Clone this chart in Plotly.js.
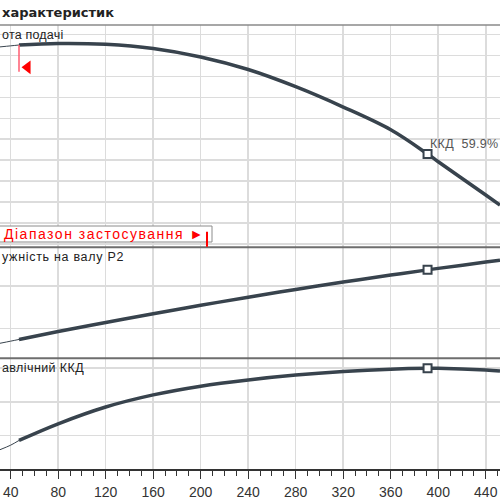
<!DOCTYPE html>
<html>
<head>
<meta charset="utf-8">
<script src="https://cdn.plot.ly/plotly-3.0.1.min.js"></script>
<style>
  body { margin: 0; background: #fff; }
  #graph { width: 500px; height: 500px; }
</style>
</head>
<body>
<div id="graph"></div>
<script>
// flow, m3/h
const flow = [31, 40, 47, 80, 120, 160, 200, 240, 280, 320, 360, 391, 400, 440, 452];
// head, m
const head = [18.81, 18.91, 18.99, 19.14, 19.06, 18.66, 17.85, 16.65, 15.01, 13.07, 10.90, 8.59, 7.85, 4.68, 3.72];
// shaft power P2, kW
const power = [8.61, 8.81, 8.97, 9.71, 10.56, 11.39, 12.18, 12.95, 13.67, 14.37, 15.03, 15.52, 15.66, 16.25, 16.42];
// hydraulic efficiency, %
const eff = [11.5, 14.2, 17.0, 26.9, 36.9, 44.1, 49.3, 53.0, 55.9, 58.0, 59.4, 59.9, 59.9, 58.9, 58.3];

const rangeStart = 47;   // start of application range
const dutyFlow = 391;    // duty point
const rangeMarkLow = 16.44;

const curveColor = '#38434d';
const gridColor = '#dcdcdc';
const sansFont = 'Liberation Sans, Arial, sans-serif';

function part(arr, thin) {
  var out = [];
  for (var i = 0; i < flow.length; i++) {
    if (thin ? flow[i] <= rangeStart : flow[i] >= rangeStart) out.push(arr[i]);
  }
  return out;
}

const di = flow.indexOf(dutyFlow);

function curve(vals, yax) {
  return [
    { x: part(flow, true), y: part(vals, true), yaxis: yax, mode: 'lines',
      line: { color: curveColor, width: 1, shape: 'spline' }, hoverinfo: 'skip' },
    { x: part(flow, false), y: part(vals, false), yaxis: yax, mode: 'lines',
      line: { color: curveColor, width: 3.5, shape: 'spline' }, hoverinfo: 'skip' },
    { x: [flow[di]], y: [vals[di]], yaxis: yax, mode: 'markers',
      marker: { symbol: 'square', size: 8, color: '#fff', line: { color: curveColor, width: 2 } },
      hoverinfo: 'skip' }
  ];
}

var data = [].concat(curve(head, 'y'), curve(power, 'y2'), curve(eff, 'y3'));

// red arrow at range start
data.push({
  x: [rangeStart + 7.2], y: [16.86], yaxis: 'y', mode: 'markers',
  marker: { symbol: 'triangle-left', size: 12, color: '#ff0000' }, hoverinfo: 'skip'
});

function yax(domain, range, tick0, dtick) {
  return {
    domain: domain, range: range, tick0: tick0, dtick: dtick,
    showticklabels: false, ticks: '', zeroline: false, fixedrange: true,
    showgrid: true, gridcolor: gridColor, gridwidth: 1.5
  };
}

function hline(py, color, width) {
  return { type: 'line', xref: 'paper', yref: 'paper', x0: 0, x1: 1,
    y0: (469 - py) / 444, y1: (469 - py) / 444, line: { color: color, width: width } };
}

function label(text, px, py, font, anchor) {
  return { text: text, xref: 'paper', yref: 'paper', x: px / 500, y: (469 - py) / 444,
    xanchor: anchor || 'left', yanchor: 'middle', showarrow: false, font: font };
}

var layout = {
  width: 500, height: 500,
  margin: { l: 0, r: 0, t: 25, b: 31 },
  paper_bgcolor: '#fff', plot_bgcolor: '#fff',
  showlegend: false,
  xaxis: {
    range: [31, 452], tick0: 0, dtick: 40, anchor: 'y3',
    ticks: 'outside', ticklen: 8, tickwidth: 1.2, tickcolor: '#333',
    ticklabelstandoff: 2,
    showline: true, linecolor: '#333', linewidth: 1.5,
    showgrid: true, gridcolor: gridColor, gridwidth: 1.5, zeroline: false,
    tickfont: { family: sansFont, size: 14, color: '#333' },
    minor: { dtick: 10, ticks: 'outside', ticklen: 5, tickwidth: 1, tickcolor: '#333', showgrid: false },
    fixedrange: true
  },
  yaxis: yax([0.4993, 1], [-0.315, 20.9], 0, 2),
  yaxis2: yax([0.2493, 0.4993], [7.195, 17.642], 10, 4),
  yaxis3: yax([0, 0.2493], [0, 65.88], 0, 20),
  shapes: [
    hline(25, '#8a8a8a', 1.5),
    hline(247.3, '#6e6e6e', 2),
    hline(358.3, '#6e6e6e', 2),
    { type: 'line', xref: 'x', yref: 'y', x0: rangeStart, x1: rangeStart,
      y0: head[flow.indexOf(rangeStart)], y1: rangeMarkLow, line: { color: '#ff5c70', width: 1.5 } },
    { type: 'rect', xref: 'paper', yref: 'paper', x0: -0.02, x1: 212 / 500,
      y0: (469 - 242) / 444, y1: (469 - 226) / 444,
      fillcolor: '#fff', line: { color: '#8c8c8c', width: 1 } },
    { type: 'line', xref: 'paper', yref: 'paper', x0: 207 / 500, x1: 207 / 500,
      y0: (469 - 231.7) / 444, y1: (469 - 246.7) / 444, line: { color: '#ff0000', width: 2 } }
  ],
  annotations: [
    label('характеристик', 0, 12.5, { family: 'DejaVu Sans, sans-serif', size: 13, color: '#222', weight: 'bold' }),
    label('<span style="letter-spacing:0.2px">ота подачі</span>', 0, 35, { family: sansFont, size: 12.5, color: '#222' }),
    label('<span style="letter-spacing:0.7px">ужність на валу P2</span>', 0, 256.5, { family: sansFont, size: 12.5, color: '#222' }),
    label('<span style="letter-spacing:0.4px">авлічний ККД</span>', 0, 368, { family: sansFont, size: 12.5, color: '#222' }),
    label('<span style="letter-spacing:1.5px">Діапазон застосування ►</span>', 1.5, 234, { family: sansFont, size: 14, color: '#ff0000' }),
    { text: '<span style="letter-spacing:0.3px">ККД  59.9%</span>', xref: 'x', yref: 'y',
      x: flow[di], y: head[di], xanchor: 'left', yanchor: 'middle', xshift: 0, yshift: 10,
      showarrow: false, font: { family: sansFont, size: 12.5, color: '#555' } }
  ]
};

Plotly.newPlot('graph', data, layout, { staticPlot: true, displayModeBar: false });
</script>
</body>
</html>
